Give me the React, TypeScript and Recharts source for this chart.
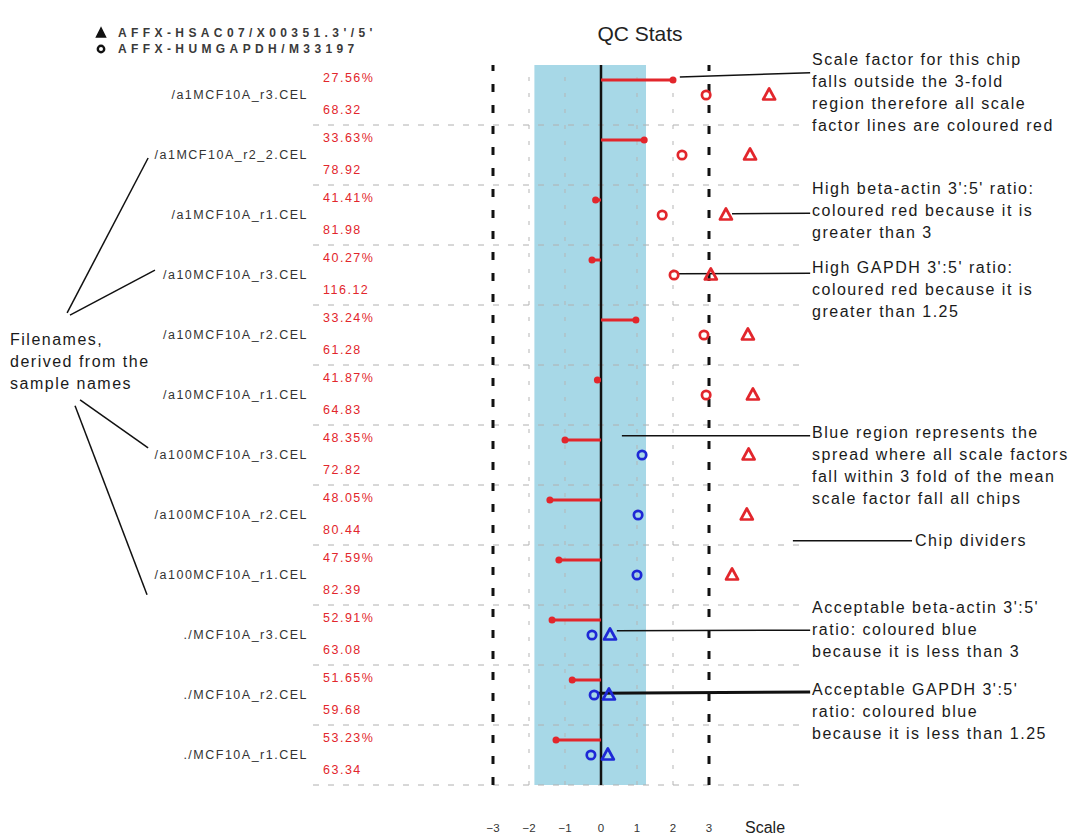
import React from 'react';
import { ScatterChart, Scatter, XAxis, YAxis, ReferenceLine, ReferenceArea } from 'recharts';

// ---------- data ----------
const chips = [
  '/a1MCF10A_r3.CEL', '/a1MCF10A_r2_2.CEL', '/a1MCF10A_r1.CEL',
  '/a10MCF10A_r3.CEL', '/a10MCF10A_r2.CEL', '/a10MCF10A_r1.CEL',
  '/a100MCF10A_r3.CEL', '/a100MCF10A_r2.CEL', '/a100MCF10A_r1.CEL',
  './MCF10A_r3.CEL', './MCF10A_r2.CEL', './MCF10A_r1.CEL',
];
const percentPresent = [27.56, 33.63, 41.41, 40.27, 33.24, 41.87, 48.35, 48.05, 47.59, 52.91, 51.65, 53.23];
const background = [68.32, 78.92, 81.98, 116.12, 61.28, 64.83, 72.82, 80.44, 82.39, 63.08, 59.68, 63.34];
const scaleFactor = [2.0, 1.2, -0.15, -0.25, 0.97, -0.1, -1.0, -1.42, -1.17, -1.36, -0.8, -1.25];
const gapdh = [2.92, 2.25, 1.7, 2.03, 2.86, 2.92, 1.14, 1.03, 1.0, -0.25, -0.19, -0.28];
const actin = [4.67, 4.14, 3.47, 3.05, 4.08, 4.22, 4.1, 4.05, 3.64, 0.25, 0.22, 0.19];
const xTicks = [-3, -2, -1, 0, 1, 2, 3];
const legendLabels = ['AFFX-HSAC07/X00351.3\'/5\'', 'AFFX-HUMGAPDH/M33197'];
const GAPDH_LIMIT = 1.25;
const ACTIN_LIMIT = 3;
const BLUE_REGION = [-1.85, 1.25];

const RED = '#e2262c';
const BLUE = '#1e28d6';
const FONT = '"Liberation Sans", Arial, sans-serif';

const rowIdx = chips.map((_, i) => i);
const sfPoints = scaleFactor.map((v, i) => ({ x: v, y: i + 0.25 }));
const gapdhPoints = gapdh.map((v, i) => ({ x: v, y: i + 0.5 }));
const actinPoints = actin.map((v, i) => ({ x: v, y: i + 0.5 }));

// annotation leader lines (data coordinates)
const leaders: { a: [number, number]; b: [number, number]; w: number }[] = [
  { a: [2.19, 0.2], b: [5.81, 0.13], w: 1.5 },
  { a: [3.64, 2.48], b: [5.81, 2.47], w: 1.5 },
  { a: [2.11, 3.48], b: [5.81, 3.47], w: 1.5 },
  { a: [0.58, 6.18], b: [5.81, 6.18], w: 1.5 },
  { a: [5.33, 7.93], b: [8.64, 7.93], w: 1.5 },
  { a: [0.44, 9.43], b: [5.81, 9.42], w: 1.5 },
  { a: [-0.08, 10.47], b: [5.81, 10.45], w: 3 },
  { a: [-14.83, 4.13], b: [-12.58, 1.55], w: 1.5 },
  { a: [-14.75, 4.17], b: [-12.39, 3.42], w: 1.5 },
  { a: [-14.47, 5.58], b: [-12.58, 6.38], w: 1.5 },
  { a: [-14.61, 5.68], b: [-12.61, 8.83], w: 1.5 },
];

const Ring = (props: any) => {
  const { cx, cy, payload } = props;
  const c = payload.x > GAPDH_LIMIT ? RED : BLUE;
  return <circle cx={cx} cy={cy} r={4.2} fill="none" stroke={c} strokeWidth={2.7} />;
};
const Tri = (props: any) => {
  const { cx, cy, payload } = props;
  const c = payload.x > ACTIN_LIMIT ? RED : BLUE;
  return (
    <polygon
      points={`${cx},${cy - 6.5} ${cx - 6},${cy + 4.5} ${cx + 6},${cy + 4.5}`}
      fill="none" stroke={c} strokeWidth={2.7} strokeLinejoin="round"
    />
  );
};
const EndDot = (props: any) => {
  const { cx, cy } = props;
  return <circle cx={cx} cy={cy} r={3.5} fill={RED} />;
};

const ChipTick = (props: any) => {
  const { x, y, payload } = props;
  const i = Math.floor(payload.value);
  return (
    <g style={{ fontFamily: FONT }}>
      <text x={x - 5} y={y} dy="0.35em" textAnchor="end" fontSize={12.5} letterSpacing={1.5} fill="#333">
        {chips[i]}
      </text>
      <text x={x + 10} y={y - 17} dy="0.35em" textAnchor="start" fontSize={12.5} letterSpacing={1.5} fill={RED}>
        {percentPresent[i].toFixed(2)}%
      </text>
      <text x={x + 10} y={y + 15} dy="0.35em" textAnchor="start" fontSize={12.5} letterSpacing={1.5} fill={RED}>
        {background[i].toFixed(2)}
      </text>
    </g>
  );
};

const XTick = (props: any) => {
  const { x, y, payload } = props;
  const v = payload.value;
  const s = v < 0 ? '\u2212' + Math.abs(v) : String(v);
  return (
    <text x={x} y={y} dy="0.71em" textAnchor="middle" fontSize={11.5} fill="#333" style={{ fontFamily: FONT }}>
      {s}
    </text>
  );
};

const noteStyle: React.CSSProperties = {
  position: 'absolute', fontFamily: FONT, fontSize: 16, lineHeight: '22px',
  letterSpacing: 1.5, color: '#1a1a1a', whiteSpace: 'pre', margin: 0,
};

const notes: { left: number; top: number; text: string }[] = [
  { left: 812, top: 49, text: 'Scale factor for this chip\nfalls outside the 3-fold\nregion therefore all scale\nfactor lines are coloured red' },
  { left: 812, top: 178, text: 'High beta-actin 3\':5\' ratio:\ncoloured red because it is\ngreater than 3' },
  { left: 812, top: 257, text: 'High GAPDH 3\':5\' ratio:\ncoloured red because it is\ngreater than 1.25' },
  { left: 812, top: 422, text: 'Blue region represents the\nspread where all scale factors\nfall within 3 fold of the mean\nscale factor fall all chips' },
  { left: 915, top: 530, text: 'Chip dividers' },
  { left: 812, top: 597, text: 'Acceptable beta-actin 3\':5\'\nratio: coloured blue\nbecause it is less than 3' },
  { left: 812, top: 679, text: 'Acceptable GAPDH 3\':5\'\nratio: coloured blue\nbecause it is less than 1.25' },
  { left: 10, top: 329, text: 'Filenames,\nderived from the\nsample names' },
];

export default function App() {
  return (
    <div style={{ position: 'absolute', left: 0, top: 0, width: 1077, height: 839, background: '#fff', overflow: 'hidden' }}>
      <ScatterChart
        width={1077}
        height={839}
        margin={{ top: 65, right: 278, bottom: 14, left: 113 }}
      >
        <XAxis
          type="number" dataKey="x" domain={[-8, 5.5]} ticks={xTicks} allowDataOverflow
          axisLine={false} tickLine={false} tickSize={0} tickMargin={39} height={40}
          interval={0} tick={<XTick />}
        />
        <YAxis
          type="number" dataKey="y" domain={[0, 12]} reversed allowDataOverflow
          ticks={rowIdx.map((i) => i + 0.5)} interval={0}
          axisLine={false} tickLine={false} tickSize={0} tickMargin={0} width={200}
          tick={<ChipTick />}
        />
        <ReferenceArea x1={BLUE_REGION[0]} x2={BLUE_REGION[1]} y1={0} y2={12} fill="#a7d8e7" fillOpacity={1} stroke="none" />
        {[-2, -1, 1, 2].map((v) => (
          <ReferenceLine key={'g' + v} x={v} stroke="#b5b5b5" strokeWidth={1} strokeDasharray="4 12" />
        ))}
        {rowIdx.map((i) => (
          <ReferenceLine key={'d' + i} y={i + 1} stroke="#b0b0b0" strokeWidth={1} strokeDasharray="6 9" />
        ))}
        {[-3, 3].map((v) => (
          <ReferenceLine key={'t' + v} x={v} stroke="#111" strokeWidth={3} strokeDasharray="8 13" />
        ))}
        <ReferenceLine x={0} stroke="#111" strokeWidth={2.5} />
        {sfPoints.map((p, i) => (
          <ReferenceLine key={'s' + i} segment={[{ x: 0, y: p.y }, { x: p.x, y: p.y }]} stroke={RED} strokeWidth={3} />
        ))}
        {leaders.map((l, i) => (
          <ReferenceLine
            key={'l' + i}
            segment={[{ x: l.a[0], y: l.a[1] }, { x: l.b[0], y: l.b[1] }]}
            stroke="#111" strokeWidth={l.w} ifOverflow="visible"
          />
        ))}
        <Scatter name="scale factor" data={sfPoints} shape={<EndDot />} isAnimationActive={false} />
        <Scatter name={legendLabels[1]} data={gapdhPoints} shape={<Ring />} isAnimationActive={false} />
        <Scatter name={legendLabels[0]} data={actinPoints} shape={<Tri />} isAnimationActive={false} />
      </ScatterChart>

      {/* title */}
      <div style={{ position: 'absolute', left: 540, width: 200, top: 22, textAlign: 'center', fontFamily: FONT, fontSize: 21, color: '#222' }}>
        QC Stats
      </div>

      {/* legend */}
      <div style={{ position: 'absolute', left: 94, top: 25, width: 282, overflow: 'hidden', fontFamily: FONT, fontSize: 12, fontWeight: 'bold', letterSpacing: 4.4, color: '#3a3a3a', whiteSpace: 'nowrap' }}>
        {legendLabels.map((lab, i) => (
          <div key={lab} style={{ height: 16, display: 'flex', alignItems: 'center' }}>
            <svg width={14} height={14} style={{ marginRight: 10, flex: 'none' }}>
              {i === 0 ? (
                <polygon points="7,2 2.5,11 11.5,11" fill="#111" stroke="#111" strokeWidth={1.5} />
              ) : (
                <circle cx={7} cy={7} r={3.2} fill="none" stroke="#111" strokeWidth={2.4} />
              )}
            </svg>
            <span>{lab}</span>
          </div>
        ))}
      </div>

      {/* x axis name */}
      <div style={{ position: 'absolute', left: 745, top: 819, fontFamily: FONT, fontSize: 16, color: '#222' }}>Scale</div>

      {notes.map((n, i) => (
        <div key={i} style={{ ...noteStyle, left: n.left, top: n.top }}>{n.text}</div>
      ))}
    </div>
  );
}
